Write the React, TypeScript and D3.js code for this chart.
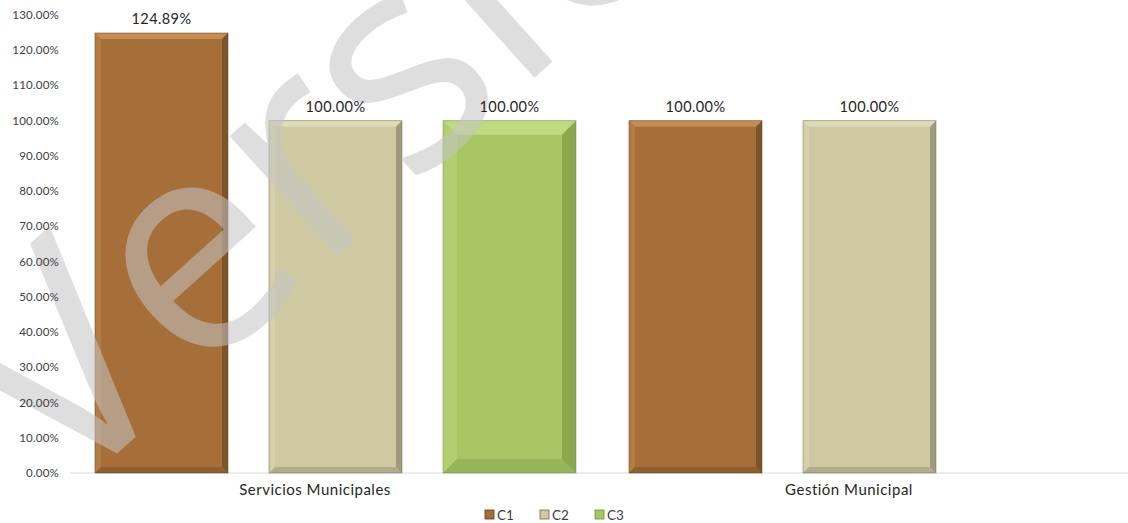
import React from "react";
import * as d3 from "d3";

const categories = ["Servicios Municipales", "Gestión Municipal"];
const seriesNames = ["C1", "C2", "C3"];
const seriesColors = ["#A66F39", "#CEC9A1", "#A6C664"];
const seriesDark = ["#5a3a1a", "#6e6b55", "#708a3e"];
const seriesLight = ["#d09a62", "#e6e2c2", "#c9e48f"];
const values: (number | null)[][] = [
  [124.89, 100, 100],
  [100, 100, null],
];
const yTicks = [0, 10, 20, 30, 40, 50, 60, 70, 80, 90, 100, 110, 120, 130];

const W = 1128;
const H = 523;
const font = "Lato, 'Open Sans', sans-serif";

export default function App() {
  const x0 = d3.scaleBand<string>().domain(categories).range([70, 1138]);
  const x1 = d3
    .scaleBand<string>()
    .domain(seriesNames)
    .range([25, 25 + 3 * 174 - 41])
    .paddingInner(41 / 174);
  const y = d3.scaleLinear().domain([0, 130]).range([473, 15]);

  const bars: React.ReactNode[] = [];
  const labels: React.ReactNode[] = [];
  categories.forEach((c, ci) => {
    seriesNames.forEach((s, si) => {
      const v = values[ci][si];
      if (v == null) return;
      const bx = (x0(c) as number) + (x1(s) as number);
      const bw = x1.bandwidth();
      const by = y(v);
      const bh = y(0) - by;
      const b = si === 2 ? 14 : 6;
      const x2 = bx + bw;
      const y2 = by + bh;
      bars.push(
        <g key={c + s}>
          <rect x={bx} y={by} width={bw} height={bh} fill={seriesColors[si]} />
          <polygon
            points={`${bx},${by} ${x2},${by} ${x2 - b},${by + b} ${bx + b},${by + b}`}
            fill={seriesLight[si]}
            opacity={0.7}
          />
          <polygon
            points={`${bx},${by} ${bx + b},${by + b} ${bx + b},${y2 - b} ${bx},${y2}`}
            fill={seriesLight[si]}
            opacity={0.3}
          />
          <polygon
            points={`${x2},${by} ${x2},${y2} ${x2 - b},${y2 - b} ${x2 - b},${by + b}`}
            fill={seriesDark[si]}
            opacity={0.5}
          />
          <polygon
            points={`${bx},${y2} ${x2},${y2} ${x2 - b},${y2 - b} ${bx + b},${y2 - b}`}
            fill={seriesDark[si]}
            opacity={0.3}
          />
          <rect x={bx} y={by} width={bw} height={bh} fill="none" stroke={seriesDark[si]} strokeWidth={0.8} opacity={0.6} />
        </g>
      );
      labels.push(
        <text
          key={c + s + "l"}
          x={bx + bw / 2}
          y={by - 9}
          textAnchor="middle"
          fontSize={14.5}
          letterSpacing={0.4}
          fill="#262626"
          fontFamily={font}
        >
          {v.toFixed(2) + "%"}
        </text>
      );
    });
  });

  return (
    <svg width={W} height={H} style={{ position: "absolute", left: 0, top: 0 }}>
      <rect width={W} height={H} fill="#ffffff" />
      <line x1={70} x2={1128} y1={y(0)} y2={y(0)} stroke="#d9d9d9" strokeWidth={1} />
      {bars}
      <text
        x={60}
        y={505}
        transform="rotate(-42 60 505)"
        fontSize={300}
        fontWeight={400}
        fill="#c4c4c4"
        opacity={0.55}
        fontFamily="'Open Sans', sans-serif"
      >
        Versión
      </text>
      {labels}
      {yTicks.map((t) => (
        <text
          key={t}
          x={59}
          y={y(t)}
          dy="0.35em"
          textAnchor="end"
          fontSize={11.5}
          letterSpacing={0.2}
          fill="#404040"
          fontFamily={font}
        >
          {t.toFixed(2) + "%"}
        </text>
      ))}
      {categories.map((c) => (
        <text
          key={c}
          x={(x0(c) as number) + x0.bandwidth() / 2 - 22}
          y={495}
          textAnchor="middle"
          fontSize={15}
          letterSpacing={0.5}
          fill="#262626"
          fontFamily={font}
        >
          {c}
        </text>
      ))}
      {seriesNames.map((s, i) => (
        <g key={s} transform={`translate(${485 + i * 55},510)`}>
          <rect x={0} y={0} width={9} height={9} fill={seriesColors[i]} stroke={seriesDark[i]} strokeWidth={0.8} />
          <text x={12} y={9.5} fontSize={13.5} fill="#404040" fontFamily={font}>
            {s}
          </text>
        </g>
      ))}
    </svg>
  );
}
